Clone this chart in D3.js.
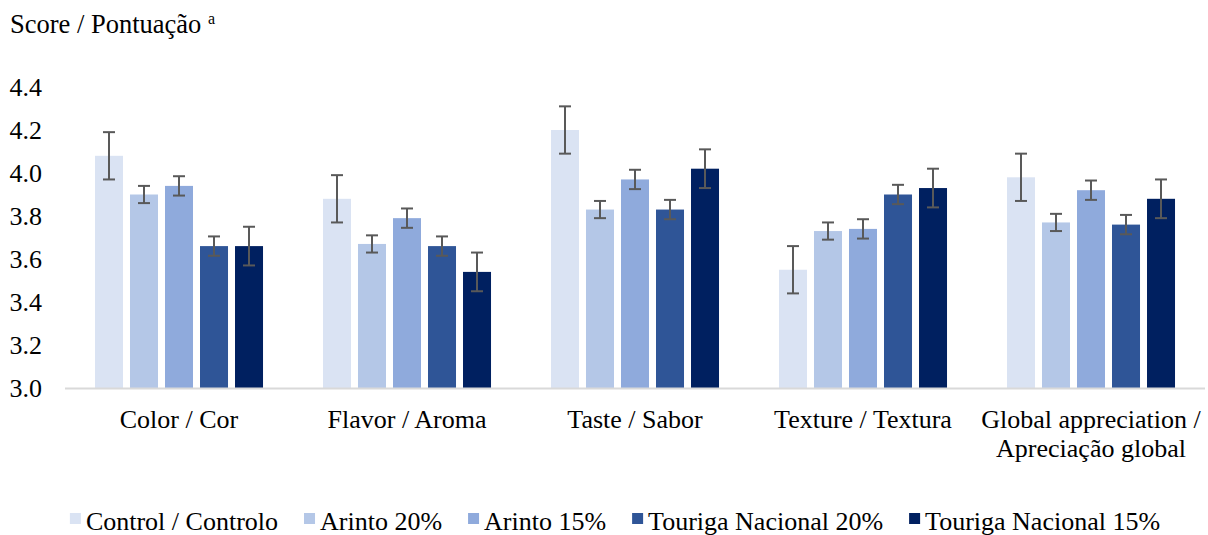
<!DOCTYPE html>
<html>
  <head>
    <meta charset="utf-8">
    <title></title>
    <script type="text/javascript" src="https://d3js.org/d3.v7.min.js"></script>
    <style>
      body { margin: 0; background: #fff; }
    </style>
  </head>
  <body>

    <div class="vis"></div>

    <script type="text/javascript">

      var w = 1208;
      var h = 535;
      var font = '"Liberation Serif"';

      // categories (two-line labels)
      var categories = [
        ["Color / Cor"],
        ["Flavor / Aroma"],
        ["Taste / Sabor"],
        ["Texture / Textura"],
        ["Global appreciation /", "Apreciação global"]
      ];
      var seriesNames = ["Control / Controlo", "Arinto 20%", "Arinto 15%", "Touriga Nacional 20%", "Touriga Nacional 15%"];
      var colors = ["#dae3f3", "#b4c7e7", "#8faadc", "#2f5597", "#002060"];

      // mean scores, one array per series (order follows categories)
      var control  = [4.08, 3.88, 4.20, 3.55, 3.98];
      var arinto20 = [3.90, 3.67, 3.83, 3.73, 3.77];
      var arinto15 = [3.94, 3.79, 3.97, 3.74, 3.92];
      var touriga20 = [3.66, 3.66, 3.83, 3.90, 3.76];
      var touriga15 = [3.66, 3.54, 4.02, 3.93, 3.88];

      // error bar half-widths per series
      var errors = [0.11, 0.04, 0.045, 0.045, 0.09];

      var yTicks = [3.0, 3.2, 3.4, 3.6, 3.8, 4.0, 4.2, 4.4];

      var values = [control, arinto20, arinto15, touriga20, touriga15];

      var rows = [];
      categories.forEach(function(c, i) {
        values.forEach(function(s, j) {
          rows.push({cat: i, series: j, value: s[i], err: errors[j]});
        });
      });

      var padL = 65, padR = 1205, padT = 87, padB = 388;

      var xscale = d3.scaleBand()
        .domain(d3.range(categories.length))
        .range([padL, padR])
        .paddingInner(0.263)
        .paddingOuter(0.1315);

      var xinner = d3.scaleBand()
        .domain(d3.range(seriesNames.length))
        .range([0, xscale.bandwidth()])
        .paddingInner(0.2);

      var yscale = d3.scaleLinear()
        .domain([3.0, 4.4])
        .range([padB, padT]);

      var svg = d3.select('.vis')
        .append('svg')
        .attr('width', w)
        .attr('height', h);

      // title
      var title = svg.append('text')
        .attr('x', 10)
        .attr('y', 33)
        .style('font-family', font)
        .attr('font-size', 26.5)
        .text('Score / Pontuação ');
      title.append('tspan')
        .attr('dy', -9)
        .attr('font-size', 16)
        .text('a');

      // y tick labels
      svg.selectAll('.ytick')
        .data(yTicks)
        .enter()
        .append('text')
        .attr('class', 'ytick')
        .attr('x', 42)
        .attr('y', function(d){ return yscale(d); })
        .attr('dy', '0.35em')
        .attr('text-anchor', 'end')
        .style('font-family', font)
        .attr('font-size', 26)
        .text(function(d){ return d.toFixed(1); });

      // bars
      svg.selectAll('rect.bar')
        .data(rows)
        .enter()
        .append('rect')
        .attr('class', 'bar')
        .attr('x', function(d){ return xscale(d.cat) + xinner(d.series); })
        .attr('y', function(d){ return yscale(d.value); })
        .attr('width', xinner.bandwidth())
        .attr('height', function(d){ return padB - yscale(d.value); })
        .attr('fill', function(d){ return colors[d.series]; });

      // axis line
      svg.append('line')
        .attr('x1', padL).attr('x2', padR)
        .attr('y1', padB + 0.5).attr('y2', padB + 0.5)
        .attr('stroke', '#d9d9d9')
        .attr('stroke-width', 2);

      // error bars
      var eb = svg.selectAll('g.err')
        .data(rows)
        .enter()
        .append('g')
        .attr('class', 'err')
        .attr('transform', function(d){
          return 'translate(' + (xscale(d.cat) + xinner(d.series) + xinner.bandwidth() / 2) + ',0)';
        });
      eb.append('line')
        .attr('y1', function(d){ return yscale(d.value + d.err); })
        .attr('y2', function(d){ return yscale(d.value - d.err); })
        .attr('stroke', '#595959').attr('stroke-width', 2);
      eb.append('line')
        .attr('x1', -6).attr('x2', 6)
        .attr('y1', function(d){ return yscale(d.value + d.err); })
        .attr('y2', function(d){ return yscale(d.value + d.err); })
        .attr('stroke', '#595959').attr('stroke-width', 2);
      eb.append('line')
        .attr('x1', -6).attr('x2', 6)
        .attr('y1', function(d){ return yscale(d.value - d.err); })
        .attr('y2', function(d){ return yscale(d.value - d.err); })
        .attr('stroke', '#595959').attr('stroke-width', 2);

      // category labels
      categories.forEach(function(c, i) {
        var t = svg.append('text')
          .attr('text-anchor', 'middle')
          .attr('x', xscale(i) + xscale.bandwidth() / 2)
          .attr('y', 428)
          .style('font-family', font)
          .attr('font-size', 26);
        c.forEach(function(line, k) {
          t.append('tspan')
            .attr('x', xscale(i) + xscale.bandwidth() / 2)
            .attr('dy', k === 0 ? 0 : 29)
            .text(line);
        });
      });

      // legend
      var legend = svg.append('g');
      var lx = 0;
      seriesNames.forEach(function(name, i) {
        var g = legend.append('g').attr('transform', 'translate(' + lx + ',0)');
        g.append('rect')
          .attr('x', 0).attr('y', 513)
          .attr('width', 11).attr('height', 11)
          .attr('fill', colors[i]);
        var t = g.append('text')
          .attr('x', 16).attr('y', 530)
          .style('font-family', font)
          .attr('font-size', 26)
          .text(name);
        lx += 16 + t.node().getComputedTextLength() + 26;
      });
      legend.attr('transform', 'translate(' + (615 - (lx - 26) / 2) + ',0)');

    </script>

  </body>
</html>
